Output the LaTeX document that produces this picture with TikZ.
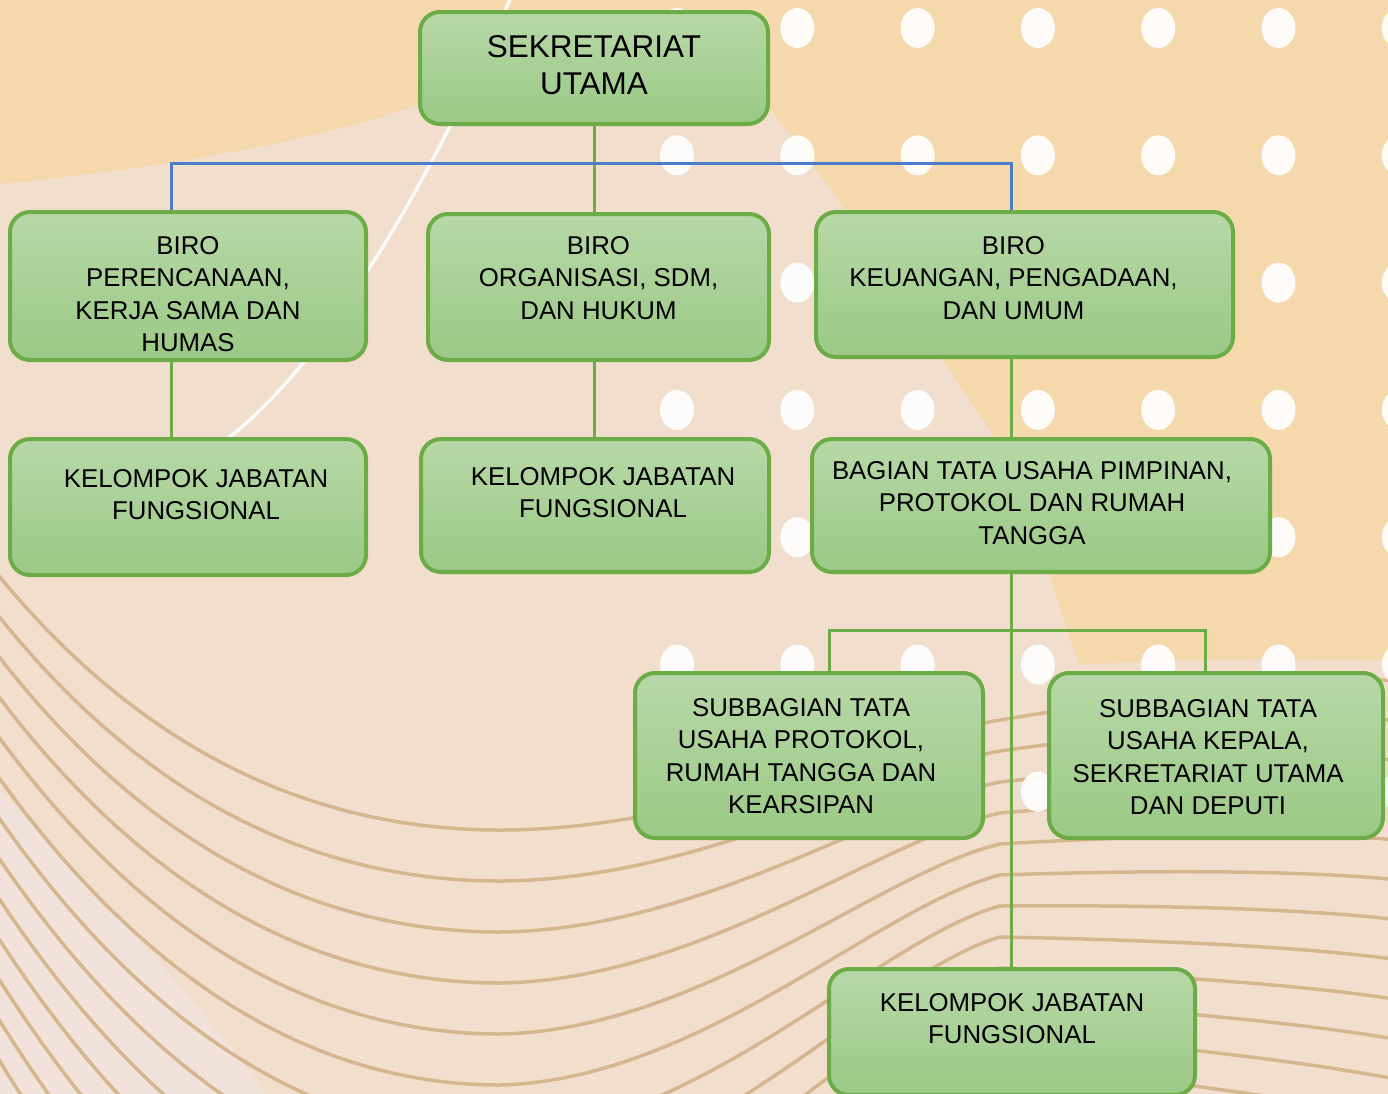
\documentclass[tikz,border=0pt]{standalone}
\usepackage{fontspec}
\setmainfont{Liberation Sans}
\usetikzlibrary{positioning}

\definecolor{boxtop}{RGB}{183,216,167}
\definecolor{boxbot}{RGB}{155,201,134}
\definecolor{boxline}{RGB}{108,172,70}
\definecolor{busblue}{RGB}{74,124,200}
\definecolor{bgorange}{RGB}{245,216,172}
\definecolor{bgpink}{RGB}{242,222,204}
\definecolor{bglight}{RGB}{241,227,219}
\definecolor{wave}{RGB}{214,182,142}

% text lines of a box, moved sideways by #1
\newcommand{\unitlines}[2]{\hspace*{#1}\begin{tabular}[t]{@{}c@{}}#2\end{tabular}}

\begin{document}
\begin{tikzpicture}[x=1pt, y=-1pt]
    \tikzset{
        unit/.style={draw=boxline, line width=4pt, rounded corners=20pt,
            top color=boxtop, bottom color=boxbot, inner sep=0pt,
            font=\fontsize{25.8}{32.5}\selectfont},
        link/.style={draw=boxline, line width=3pt},
        bus/.style={draw=busblue, line width=3pt},
    }
    \useasboundingbox (0,0) rectangle (1388,1093);
    \clip (0,0) rectangle (1388,1093);

    % background
    \fill[bgorange] (-10,-10) rectangle (1400,1100);
    \fill[bgpink] (-10,185) .. controls (150,170) and (330,140) .. (430,100)
        -- (770,110) .. controls (860,220) and (920,330) .. (990,430)
        .. controls (1040,520) and (1060,620) .. (1080,665)
        .. controls (1200,658) and (1330,658) .. (1400,662)
        -- (1400,1100) -- (-10,1100) -- cycle;
    \fill[bglight] (-10,790) -- (0,790) .. controls (100,900) and (200,1000) .. (270,1100) -- (-10,1100) -- cycle;
    \foreach \k in {0,...,13}
        \draw[wave, line width=3.5pt] (-10,565+40*\k) .. controls (130,740+45*\k) and (300,830+51*\k) .. (500,830+51*\k)
            .. controls (700,830+50*\k) and (880,740+33*\k) .. (1000,720+31*\k)
            .. controls (1150,695+35*\k) and (1300,680+38*\k) .. (1400,680+40*\k);
    \draw[white, opacity=0.9, line width=3.5pt] (512,-5) .. controls (470,90) and (420,190) .. (370,267)
        .. controls (330,330) and (290,390) .. (220,445);
    \foreach \i in {0,...,6}
        \foreach \j in {0,...,6}
            \fill[white, opacity=0.92] (677+120.3*\i, 28+127.3*\j) ellipse [x radius=17pt, y radius=20pt];

    % boxes
    \node[unit, minimum width=348pt, text height=45pt, text depth=67pt,
        font=\fontsize{31.5}{37}\selectfont] (sekUtama) at (594,68) {\unitlines{0pt}{SEKRETARIAT\\UTAMA}};
    \node[unit, minimum width=356pt, text height=42pt, text depth=106pt] (biroA) at (188,286)
        {\unitlines{0pt}{BIRO\\PERENCANAAN,\\KERJA SAMA DAN\\HUMAS}};
    \node[unit, minimum width=341pt, text height=40pt, text depth=106pt] (biroB) at (598.5,287)
        {\unitlines{0pt}{BIRO\\ORGANISASI, SDM,\\DAN HUKUM}};
    \node[unit, minimum width=417pt, text height=42pt, text depth=103pt] (biroC) at (1024.5,284.5)
        {\unitlines{-22pt}{BIRO\\KEUANGAN, PENGADAAN,\\DAN UMUM}};
    \node[unit, minimum width=356pt, text height=48pt, text depth=88pt] (kjfA) at (188,507)
        {\unitlines{16pt}{KELOMPOK JABATAN\\FUNGSIONAL}};
    \node[unit, minimum width=348pt, text height=46pt, text depth=87pt] (kjfB) at (595,505.5)
        {\unitlines{16pt}{KELOMPOK JABATAN\\FUNGSIONAL}};
    \node[unit, minimum width=458pt, text height=40pt, text depth=93pt] (bagian) at (1041,505.5)
        {\unitlines{-18pt}{BAGIAN TATA USAHA PIMPINAN,\\PROTOKOL DAN RUMAH\\TANGGA}};
    \node[unit, minimum width=348pt, text height=43pt, text depth=122pt] (subA) at (809,755.5)
        {\unitlines{-16pt}{SUBBAGIAN TATA\\USAHA PROTOKOL,\\RUMAH TANGGA DAN\\KEARSIPAN}};
    \node[unit, minimum width=334pt, text height=44pt, text depth=121pt] (subB) at (1216,755.5)
        {\unitlines{-16pt}{SUBBAGIAN TATA\\USAHA KEPALA,\\SEKRETARIAT UTAMA\\DAN DEPUTI}};
    \node[unit, minimum width=366pt, text height=42pt, text depth=84pt] (kjfC) at (1012,1032)
        {\unitlines{0pt}{KELOMPOK JABATAN\\FUNGSIONAL}};

    % connectors
    \coordinate (busA) at (171,163);
    \coordinate (busC) at (1011,163);
    \coordinate (subL) at (829,630);
    \coordinate (subR) at (1205,630);
    \path[link] (sekUtama.south) -- (sekUtama.south |- biroB.north);
    \path[bus] (biroA.north -| busA) -- (busA) -- (busC) -- (biroC.north -| busC);
    \path[link] (biroA.south -| busA) -- (kjfA.north -| busA);
    \path[link] (biroB.south -| sekUtama.south) -- (kjfB.north -| sekUtama.south);
    \path[link] (biroC.south -| busC) -- (bagian.north -| busC);
    \path[link] (bagian.south -| busC) -- (kjfC.north -| busC);
    \path[link] (subA.north -| subL) -- (subL) -- (subR) -- (subB.north -| subR);
\end{tikzpicture}
\end{document}
